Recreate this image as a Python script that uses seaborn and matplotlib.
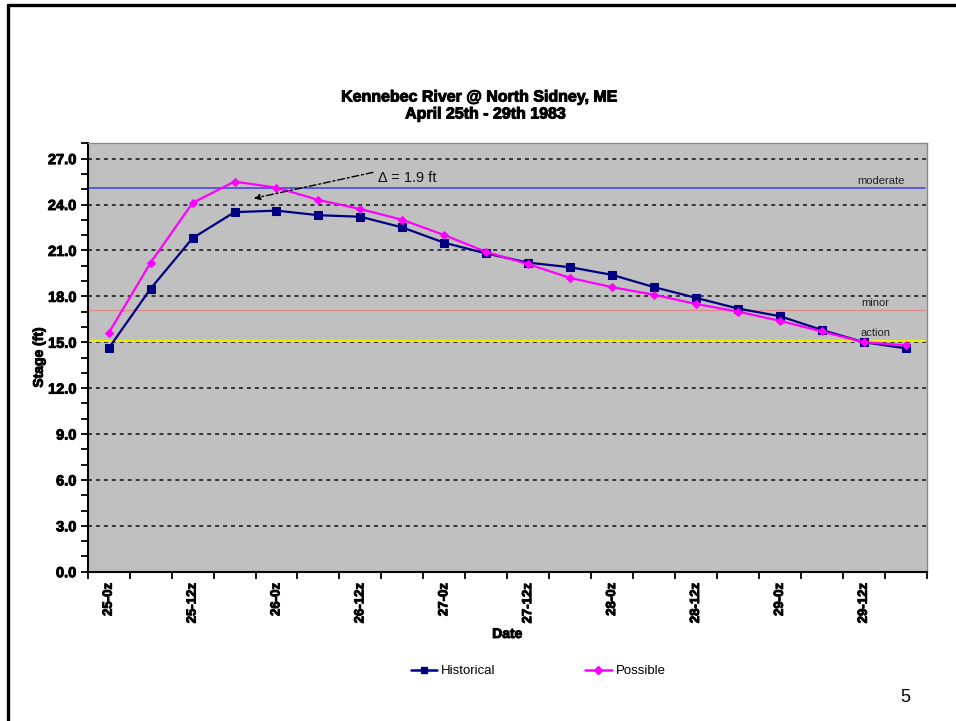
import matplotlib
matplotlib.use("Agg")
import matplotlib.pyplot as plt
import matplotlib.patheffects as pe
import seaborn as sns
import pandas as pd
from matplotlib.lines import Line2D
from matplotlib.ticker import FixedLocator, MultipleLocator

# 6-hourly observation times
times = ["25-0z", "25-6z", "25-12z", "25-18z",
         "26-0z", "26-6z", "26-12z", "26-18z",
         "27-0z", "27-6z", "27-12z", "27-18z",
         "28-0z", "28-6z", "28-12z", "28-18z",
         "29-0z", "29-6z", "29-12z", "29-18z"]

# river stage (ft)
historical = [14.6, 18.5, 21.8, 23.5, 23.6, 23.3, 23.2, 22.5, 21.5, 20.8,
              20.2, 19.9, 19.4, 18.6, 17.9, 17.2, 16.7, 15.8, 15.0, 14.6]
possible = [15.6, 20.2, 24.1, 25.5, 25.1, 24.3, 23.7, 23.0, 22.0, 20.9,
            20.1, 19.2, 18.6, 18.1, 17.5, 17.0, 16.4, 15.7, 15.0, 14.8]

# flood stage thresholds (ft)
flood_names = ["moderate", "minor", "action"]
flood_stages = [25.1, 17.1, 15.1]
flood_colors = ["#3b3bf0", "#e08888", "#f0f000"]
flood_widths = [1.1, 0.9, 1.4]

y_ticks = [0, 3, 6, 9, 12, 15, 18, 21, 24, 27]

NAVY = "#000080"
MAGENTA = "#ff00ff"

sns.set_theme(style="white")
plt.rcParams["font.family"] = ["Liberation Sans", "DejaVu Sans"]
plt.rcParams.update({"text.color": "black", "axes.labelcolor": "black",
                     "xtick.color": "black", "ytick.color": "black"})

# heavy rendering for the bold chart text
heavy = [pe.withStroke(linewidth=0.7, foreground="black")]

fig = plt.figure(figsize=(9.56, 7.21), dpi=100)
W, H = 956, 721

ax = fig.add_axes([87.7 / W, 1 - 571.7 / H, 839 / W, 428.4 / H])
ax.set_facecolor("#c0c0c0")

df = pd.DataFrame({"pos": range(len(times)), "time": times,
                   "Historical": historical, "Possible": possible})

# dotted horizontal gridlines at major ticks
for v in y_ticks[1:]:
    ax.axhline(v, color="#2a2a2a", lw=1.3, ls=(0, (2.2, 2.2)), zorder=1)

# flood stage reference lines
for name, lvl, col, lw in zip(flood_names, flood_stages, flood_colors, flood_widths):
    ax.plot([-0.5, 19.45], [lvl, lvl], color=col, lw=lw, zorder=2)

sns.lineplot(data=df, x="pos", y="Historical", ax=ax, color=NAVY, lw=1.6,
             marker="s", markersize=5.2, markeredgecolor=NAVY, zorder=3)
sns.lineplot(data=df, x="pos", y="Possible", ax=ax, color=MAGENTA, lw=1.6,
             marker="D", markersize=4.2, markeredgecolor=MAGENTA, zorder=4)

# flood stage labels
ax.text(18.41, 25.55, "moderate", fontsize=8, color="#222222", ha="center", va="center")
ax.text(18.27, 17.55, "minor", fontsize=8, color="#222222", ha="center", va="center")
ax.text(18.27, 15.6, "action", fontsize=8, color="#222222", ha="center", va="center")

# difference between peaks
peak_gap = max(possible) - max(historical)
ax.annotate("", xy=(3.46, 24.4), xytext=(6.3, 26.1),
            arrowprops=dict(arrowstyle="-|>", color="black", lw=1.0,
                            ls=(0, (5, 2, 1.5, 2)), mutation_scale=9,
                            shrinkA=0, shrinkB=0), zorder=5)
ax.text(6.42, 25.73, f"Δ = {peak_gap:.1f} ft", fontsize=10.5, color="#111111",
        ha="left", va="center", zorder=5)

# axes limits and ticks
ax.set_xlim(-0.5, len(times) - 0.5)
ax.set_ylim(0, 28)
ax.yaxis.set_major_locator(FixedLocator(y_ticks))
ax.yaxis.set_minor_locator(MultipleLocator(1))
ax.set_yticklabels([f"{v:.1f}" for v in y_ticks], fontweight="bold", fontsize=10.5,
                   path_effects=heavy)
ax.set_xticks(df["pos"][::2])
ax.set_xticklabels(df["time"][::2], rotation=90, fontweight="bold", fontsize=9.5,
                   va="top", ha="center", path_effects=heavy)
ax.xaxis.set_minor_locator(FixedLocator([i - 0.5 for i in range(len(times) + 1)]))

ax.tick_params(axis="y", which="both", direction="out", length=5, width=1.3,
               color="black", left=True, pad=3)
ax.tick_params(axis="x", which="major", length=0, pad=8)
ax.tick_params(axis="x", which="minor", direction="out", length=5, width=1.3,
               color="black", bottom=True)

for s in ["left", "bottom"]:
    ax.spines[s].set_color("black")
    ax.spines[s].set_linewidth(1.5)
for s in ["top", "right"]:
    ax.spines[s].set_color("#8a8a8a")
    ax.spines[s].set_linewidth(1.0)

ax.set_xlabel("Date", fontweight="bold", fontsize=10, path_effects=heavy)
ax.set_ylabel("Stage (ft)", fontweight="bold", fontsize=10, path_effects=heavy)
ax.xaxis.set_label_coords(0.5, -0.129)
ax.yaxis.set_label_coords(-0.05, 0.5)
ax.grid(False)

# title
fig.text(480 / W, 1 - 97 / H, "Kennebec River @ North Sidney, ME",
         fontsize=11.5, fontweight="bold", ha="center", va="center", path_effects=heavy)
fig.text(486 / W, 1 - 114 / H, "April 25th - 29th 1983",
         fontsize=11.5, fontweight="bold", ha="center", va="center", path_effects=heavy)

# legend
handles = [Line2D([], [], color=NAVY, lw=1.8, marker="s", markersize=4.5),
           Line2D([], [], color=MAGENTA, lw=1.8, marker="D", markersize=3.8)]
fig.legend(handles, ["Historical", "Possible"], loc="center",
           bbox_to_anchor=(538 / W, 1 - 671 / H), ncol=2, frameon=False,
           fontsize=9.5, handlelength=2.0, handletextpad=0.3, columnspacing=6.8)

# page frame and number
fig.add_artist(Line2D([8 / W, 1], [1 - 5 / H, 1 - 5 / H], color="black", lw=2.4,
                      transform=fig.transFigure))
fig.add_artist(Line2D([8 / W, 8 / W], [0, 1 - 5 / H], color="black", lw=2.4,
                      transform=fig.transFigure))
fig.text(905 / W, 1 - 697 / H, "5", fontsize=13, ha="center", va="center")

fig.savefig("out.png", dpi=100)
